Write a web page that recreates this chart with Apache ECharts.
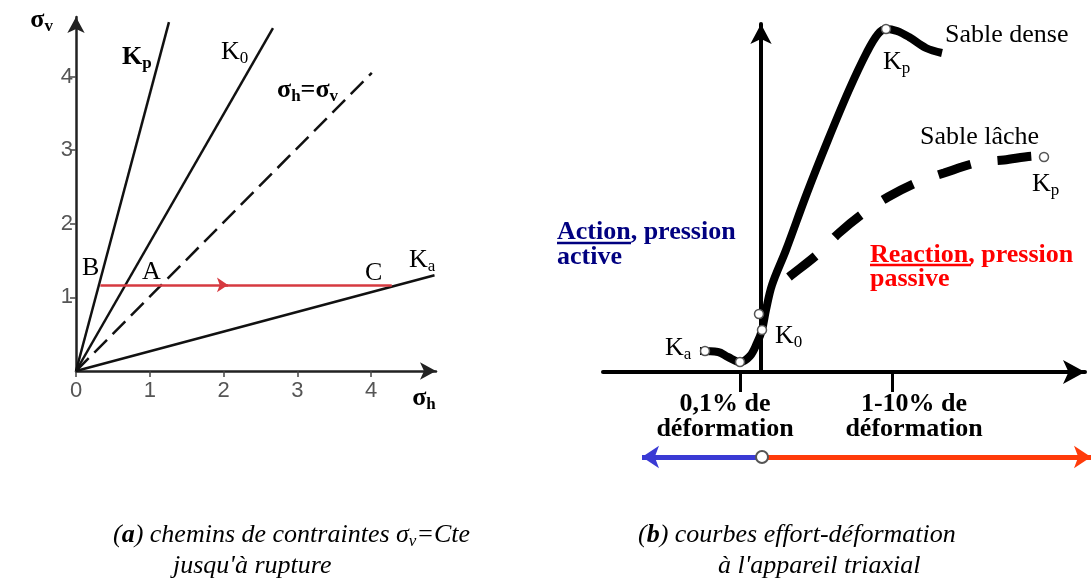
<!DOCTYPE html>
<html><head><meta charset="utf-8">
<script src="https://cdn.jsdelivr.net/npm/echarts@6/dist/echarts.min.js"></script>
<style>html,body{margin:0;padding:0;background:#fff}#c{width:1091px;height:584px}</style>
</head><body><div id="c"></div>
<script>
// ---------- Panel (a): stress paths ----------
const stressTicksX = [0, 1, 2, 3, 4];
const stressTicksY = [1, 2, 3, 4];
const kpLine = [[0, 0], [1.26, 4.74]];
const k0Line = [[0, 0], [2.67, 4.66]];
const isoLine = [[0, 0], [4.01, 4.05]];
const kaLine = [[0, 0], [4.86, 1.30]];
const pathBA = [[0.33, 1.17], [2.06, 1.17]];
const pathAC = [[2.0, 1.17], [4.28, 1.17]];

// ---------- Panel (b): stress-strain curves (arbitrary units) ----------
const denseCurve = [[-6.1,2.1],[-4.3,2.0],[-3.3,1.5],[-2.1,1.0],[-1.1,1.6],[-0.4,2.9],[0.1,4.2],[0.5,6.2],[1.1,8.7],[2.5,12.2],[4.6,17.9],[6.7,23.2],[8.8,28.2],[10.6,32.0],[11.7,33.8],[12.5,34.3],[13.6,34.1],[14.8,33.5],[16.5,32.4],[18.1,31.9]];
const looseCurve = [[0.7,7.8],[2.8,9.5],[5.8,11.9],[7.8,13.9],[10.4,16.0],[12.7,17.5],[15.7,19.0],[18.3,19.9],[21.5,20.9],[24.3,21.2],[27.6,21.6],[28.3,21.5]];
const keyPoints = [[-5.6,2.1],[-2.1,1.0],[0.1,4.2],[-0.2,5.8],[12.5,34.3],[28.3,21.5]];
const strainTicks = [-2.1, 13.1];
const strainTickLabels = ['0,1% de\ndéformation', '1-10% de\ndéformation'];
const activeArrow = [[0.1, 0], [-11.9, 0]];
const passiveArrow = [[0.1, 0], [33.0, 0]];
const arrowOrigin = [[0.1, 0]];

// label centres are offset from their tick (style, in axis units)
const strainLabelShift = [-1.5, 2.2];

const SERIF = 'Liberation Serif';
const SANS = 'Liberation Sans';

function rich(fill, bold, size, subSize) {
  const w = bold ? 'bold' : 'normal';
  return {
    m: {fontFamily: SERIF, fontSize: size, lineHeight: size + 4, fontWeight: w, fill: fill},
    s: {fontFamily: SERIF, fontSize: subSize, lineHeight: subSize, fontWeight: w, fill: fill, verticalAlign: 'bottom'}
  };
}
function label(x, y, text, opts) {
  opts = opts || {};
  return {
    type: 'text', x: x, y: y, z: 50,
    style: {
      text: text, rich: rich(opts.fill || '#000', opts.bold, opts.size || 26, opts.sub || 17),
      align: opts.align || 'left', verticalAlign: 'middle',
      fontFamily: SERIF, fontSize: opts.size || 26, fontWeight: opts.bold ? 'bold' : 'normal',
      fill: opts.fill || '#000'
    }
  };
}
function plain(x, y, text, o) {
  return {
    type: 'text', x: x, y: y, z: 50,
    style: {
      text: text, fontFamily: SERIF, fontSize: o.size, fontWeight: o.bold ? 'bold' : 'normal',
      fontStyle: o.italic ? 'italic' : 'normal', fill: o.fill || '#000', lineHeight: o.lh || o.size,
      align: 'left', verticalAlign: 'middle'
    }
  };
}
function capRich() {
  const b = {fontFamily: SERIF, fontSize: 26, fontStyle: 'italic', fill: '#000', lineHeight: 30};
  return {
    n: b,
    b: Object.assign({}, b, {fontWeight: 'bold'}),
    s: Object.assign({}, b, {fontSize: 17, lineHeight: 17, verticalAlign: 'bottom'})
  };
}

const chart = echarts.init(document.getElementById('c'), null, {renderer: 'canvas'});

const blackLine = (w) => ({color: '#111', width: w});
const nameRich = {
  m: {fontFamily: SERIF, fontSize: 26, fontWeight: 'bold', color: '#000', lineHeight: 30},
  s: {fontFamily: SERIF, fontSize: 17, fontWeight: 'bold', color: '#000', lineHeight: 17, verticalAlign: 'bottom'}
};
const strainLabelValues = strainTicks.map((t, i) => t + strainLabelShift[i]);

const option = {
  animation: false,
  backgroundColor: '#fff',
  grid: [
    {left: 76, top: 17, width: 360, height: 354},
    {left: 603, top: 24, width: 482, height: 348},
    {left: 603, top: 447, width: 482, height: 20},
    {left: 761, top: 24, width: 1, height: 348}
  ],
  xAxis: [
    {
      gridIndex: 0, type: 'value', min: 0, max: 4.88, interval: 1,
      axisLine: {symbol: ['none', 'arrow'], symbolSize: [13, 16], lineStyle: {color: '#222', width: 2.5}},
      axisTick: {customValues: stressTicksX, length: 6, lineStyle: {color: '#444', width: 1.5}},
      axisLabel: {customValues: stressTicksX, color: '#555', fontFamily: SANS, fontSize: 22, margin: 9},
      splitLine: {show: false},
      name: '{m|σ}{s|h}', nameLocation: 'end', nameGap: -12,
      nameTextStyle: {align: 'center', verticalAlign: 'top', padding: [12, 0, 0, 0], rich: nameRich}
    },
    {
      gridIndex: 1, type: 'value', min: -15.8, max: 32.4,
      axisLine: {onZero: false, symbol: ['none', 'arrow'], symbolSize: [18, 22], lineStyle: {color: '#000', width: 4}},
      axisTick: {customValues: strainTicks, length: 20, lineStyle: {color: '#000', width: 3}},
      axisLabel: {
        customValues: strainLabelValues, margin: 20, hideOverlap: false,
        formatter: function (v) {
          let idx = 0, best = 1e9;
          strainLabelValues.forEach((t, i) => { if (Math.abs(t - v) < best) { best = Math.abs(t - v); idx = i; } });
          return strainTickLabels[idx];
        },
        fontFamily: SERIF, fontSize: 26, fontWeight: 'bold', color: '#000', lineHeight: 25
      },
      splitLine: {show: false}
    },
    {gridIndex: 2, type: 'value', min: -15.8, max: 32.4, show: false},
    {gridIndex: 3, type: 'value', min: 0, max: 1, show: false}
  ],
  yAxis: [
    {
      gridIndex: 0, type: 'value', min: 0, max: 4.81, interval: 1,
      axisLine: {symbol: ['none', 'arrow'], symbolSize: [13, 16], lineStyle: {color: '#222', width: 2.5}},
      axisTick: {customValues: stressTicksY, length: 6, lineStyle: {color: '#444', width: 1.5}},
      axisLabel: {customValues: stressTicksY, color: '#555', fontFamily: SANS, fontSize: 22, margin: 3},
      splitLine: {show: false},
      name: '{m|σ}{s|v}', nameLocation: 'end', nameGap: -3,
      nameTextStyle: {align: 'right', verticalAlign: 'middle', padding: [0, 23, 0, 0], rich: nameRich}
    },
    {gridIndex: 1, type: 'value', min: 0, max: 34.8, show: false},
    {gridIndex: 2, type: 'value', min: -1, max: 1, show: false},
    {
      gridIndex: 3, type: 'value', min: 0, max: 34.8, position: 'left',
      axisLine: {onZero: false, symbol: ['none', 'arrow'], symbolSize: [16, 20], lineStyle: {color: '#000', width: 4}},
      axisTick: {show: false}, axisLabel: {show: false}, splitLine: {show: false}
    }
  ],
  series: [
    {type: 'line', xAxisIndex: 0, yAxisIndex: 0, data: kpLine, symbol: 'none', clip: false, lineStyle: blackLine(2.5)},
    {type: 'line', xAxisIndex: 0, yAxisIndex: 0, data: k0Line, symbol: 'none', clip: false, lineStyle: blackLine(2.5)},
    {type: 'line', xAxisIndex: 0, yAxisIndex: 0, data: isoLine, symbol: 'none', clip: false, lineStyle: {color: '#111', width: 2.5, type: [18, 8]}},
    {type: 'line', xAxisIndex: 0, yAxisIndex: 0, data: kaLine, symbol: 'none', clip: false, lineStyle: blackLine(2.5)},
    {type: 'lines', coordinateSystem: 'cartesian2d', xAxisIndex: 0, yAxisIndex: 0, clip: false,
      symbol: ['none', 'arrow'], symbolSize: 11, data: [{coords: pathBA}],
      lineStyle: {color: '#d63a40', width: 2.5, opacity: 1}, z: 5},
    {type: 'lines', coordinateSystem: 'cartesian2d', xAxisIndex: 0, yAxisIndex: 0, clip: false,
      symbol: 'none', data: [{coords: pathAC}], lineStyle: {color: '#d63a40', width: 2.5, opacity: 1}, z: 5},

    {type: 'line', xAxisIndex: 1, yAxisIndex: 1, data: denseCurve, symbol: 'none', smooth: 0.35, clip: false,
      lineStyle: {color: '#000', width: 8, cap: 'butt', join: 'round'}},
    {type: 'line', xAxisIndex: 1, yAxisIndex: 1, data: looseCurve, symbol: 'none', smooth: 0.35, clip: false,
      lineStyle: {color: '#000', width: 9, type: [34, 27], dashOffset: 34, cap: 'butt'}},
    {type: 'scatter', xAxisIndex: 1, yAxisIndex: 1, data: keyPoints, symbol: 'circle', symbolSize: 9, clip: false, z: 10,
      itemStyle: {color: '#fff', borderColor: '#555', borderWidth: 1.5, opacity: 1}},

    {type: 'lines', coordinateSystem: 'cartesian2d', xAxisIndex: 2, yAxisIndex: 2, clip: false,
      symbol: ['none', 'arrow'], symbolSize: 17, data: [{coords: activeArrow}],
      lineStyle: {color: '#3a3ad4', width: 5, opacity: 1}},
    {type: 'lines', coordinateSystem: 'cartesian2d', xAxisIndex: 2, yAxisIndex: 2, clip: false,
      symbol: ['none', 'arrow'], symbolSize: 17, data: [{coords: passiveArrow}],
      lineStyle: {color: '#ff3b0a', width: 5, opacity: 1}},
    {type: 'scatter', xAxisIndex: 2, yAxisIndex: 2, data: arrowOrigin, symbol: 'circle', symbolSize: 12, clip: false, z: 10,
      itemStyle: {color: '#fff', borderColor: '#555', borderWidth: 2, opacity: 1}}
  ],
  graphic: [
    // panel (a) annotations
    label(122, 57, '{m|K}{s|p}', {bold: true}),
    label(221, 52, '{m|K}{s|0}'),
    label(277, 90, '{m|σ}{s|h}{m|=σ}{s|v}', {bold: true}),
    plain(82, 268, 'B', {size: 26}),
    plain(142, 272, 'A', {size: 26}),
    plain(365, 273, 'C', {size: 26}),
    label(409, 260, '{m|K}{s|a}'),
    // panel (b) annotations
    plain(945, 35, 'Sable dense', {size: 26}),
    plain(920, 137, 'Sable lâche', {size: 26}),
    label(883, 62, '{m|K}{s|p}'),
    label(1032, 184, '{m|K}{s|p}'),
    label(665, 348, '{m|K}{s|a}'),
    label(775, 336, '{m|K}{s|0}'),
    plain(557, 245, 'Action, pression\nactive', {size: 26, bold: true, fill: '#000080', lh: 25}),
    {type: 'line', z: 50, shape: {x1: 557, y1: 243, x2: 631, y2: 243}, style: {stroke: '#000080', lineWidth: 2.5}},
    plain(870, 267, 'Reaction, pression\npassive', {size: 26, bold: true, fill: '#ff0000', lh: 24}),
    {type: 'line', z: 50, shape: {x1: 870, y1: 265, x2: 971, y2: 265}, style: {stroke: '#ff0000', lineWidth: 2.5}},
    // captions
    {type: 'text', x: 113, y: 535, z: 50, style: {text: '{n|(}{b|a}{n|) chemins de contraintes σ}{s|v}{n|=Cte}', rich: capRich(), verticalAlign: 'middle'}},
    {type: 'text', x: 173, y: 566, z: 50, style: {text: "{n|jusqu'à rupture}", rich: capRich(), verticalAlign: 'middle'}},
    {type: 'text', x: 638, y: 535, z: 50, style: {text: '{n|(}{b|b}{n|) courbes effort-déformation}', rich: capRich(), verticalAlign: 'middle'}},
    {type: 'text', x: 718, y: 566, z: 50, style: {text: "{n|à l'appareil triaxial}", rich: capRich(), verticalAlign: 'middle'}}
  ]
};
chart.setOption(option);
</script>
</body></html>
